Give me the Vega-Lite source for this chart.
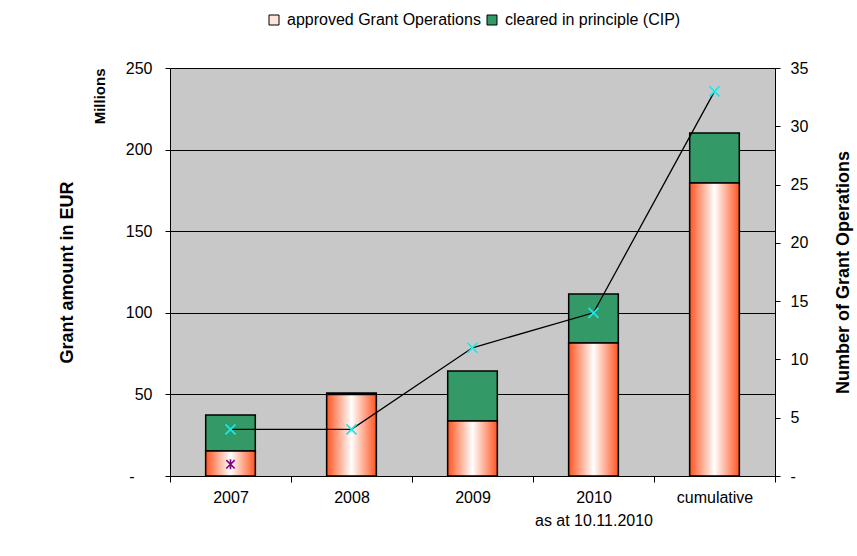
{
  "$schema": "https://vega.github.io/schema/vega-lite/v6.json",
  "width": 605,
  "height": 408,
  "autosize": {"type": "none"},
  "padding": {"left": 170, "top": 68, "right": 82, "bottom": 80},
  "background": "white",
  "config": {
    "font": "Liberation Sans",
    "view": {"fill": "#C8C8C8", "stroke": "#808080", "strokeWidth": 1},
    "axis": {
      "labelFont": "Liberation Sans",
      "labelFontSize": 16,
      "labelColor": "#000000",
      "titleFont": "Liberation Sans",
      "titleFontSize": 18,
      "titleFontWeight": "bold",
      "titleColor": "#000000",
      "domainColor": "#000000",
      "tickColor": "#000000",
      "gridColor": "#000000",
      "gridOpacity": 1,
      "gridWidth": 1
    },
    "legend": {
      "labelFont": "Liberation Sans",
      "labelFontSize": 16,
      "labelColor": "#000000",
      "labelLimit": 400,
      "symbolStrokeColor": "#000000",
      "symbolStrokeWidth": 1,
      "symbolType": "square",
      "symbolSize": 100
    }
  },
  "data": {
    "values": [
      {"cat": "2007", "approved": 15.3, "cip": 22.1, "count": 4, "other": 1},
      {"cat": "2008", "approved": 50.0, "cip": 0.9, "count": 4, "other": null},
      {"cat": "2009", "approved": 33.7, "cip": 30.6, "count": 11, "other": null},
      {"cat": "2010", "approved": 81.5, "cip": 30.0, "count": 14, "other": null},
      {"cat": "cumulative", "approved": 179.5, "cip": 30.7, "count": 33, "other": null}
    ]
  },
  "encoding": {
    "x": {
      "field": "cat",
      "type": "nominal",
      "sort": null,
      "scale": {"paddingInner": 0, "paddingOuter": 0},
      "axis": {
        "title": null,
        "labelAngle": 0,
        "tickBand": "extent",
        "tickSize": 6,
        "labelPadding": 7,
        "labelLineHeight": 23,
        "labelExpr": "datum.value == '2010' ? ['2010', 'as at 10.11.2010'] : datum.value"
      }
    }
  },
  "layer": [
    {
      "layer": [
        {
          "transform": [
            {"fold": ["approved", "cip"], "as": ["series", "amount"]},
            {"calculate": "datum.series == 'approved' ? 'approved Grant Operations' : 'cleared in principle (CIP)'", "as": "label"},
            {"calculate": "datum.series == 'approved' ? 0 : 1", "as": "ord"}
          ],
          "mark": {"type": "bar", "width": {"band": 0.41}, "stroke": "#000000", "strokeWidth": 1.5},
          "encoding": {
            "y": {
              "field": "amount",
              "type": "quantitative",
              "stack": "zero",
              "scale": {"domain": [0, 250], "nice": false},
              "axis": {
                "orient": "left",
                "values": [0, 50, 100, 150, 200, 250],
                "grid": true,
                "tickSize": 5,
                "labelPadding": {"condition": {"test": "datum.value == 0", "value": 31}, "value": 13},
                "labelExpr": "datum.value == 0 ? '-' : datum.value",
                "title": "Grant amount in EUR",
                "titlePadding": 49
              }
            },
            "color": {
              "field": "label",
              "type": "nominal",
              "scale": {
                "domain": ["approved Grant Operations", "cleared in principle (CIP)"],
                "range": ["#FFE4DC", "#339966"]
              },
              "legend": {
                "title": null,
                "orient": "none",
                "direction": "horizontal",
                "legendX": 96,
                "legendY": -56,
                "columnPadding": 3,
                "labelOffset": 5
              }
            },
            "order": {"field": "ord", "type": "quantitative"}
          }
        },
        {
          "mark": {
            "type": "bar",
            "width": {"band": 0.41},
            "stroke": "#000000",
            "strokeWidth": 1.5,
            "color": {
              "gradient": "linear",
              "x1": 0, "y1": 0, "x2": 1, "y2": 0,
              "stops": [
                {"offset": 0, "color": "#FF5522"},
                {"offset": 0.5, "color": "#FFFFFF"},
                {"offset": 1, "color": "#FF5522"}
              ]
            }
          },
          "encoding": {
            "y": {
              "field": "approved",
              "type": "quantitative",
              "scale": {"domain": [0, 250], "nice": false},
              "axis": {
                "orient": "left",
                "labels": false,
                "ticks": false,
                "domain": false,
                "grid": false,
                "title": "Millions",
                "titleFontSize": 15,
                "titleAnchor": "end",
                "titlePadding": 63
              }
            }
          }
        }
      ],
      "resolve": {"axis": {"y": "independent"}}
    },
    {
      "layer": [
        {
          "mark": {"type": "line", "color": "#000000", "strokeWidth": 1.3},
          "encoding": {
            "y": {
              "field": "count",
              "type": "quantitative",
              "scale": {"domain": [0, 35], "nice": false},
              "axis": {
                "orient": "right",
                "values": [0, 5, 10, 15, 20, 25, 30, 35],
                "grid": false,
                "tickSize": 5,
                "labelPadding": 10,
                "labelExpr": "datum.value == 0 ? '-' : datum.value",
                "title": "Number of Grant Operations",
                "titleAngle": -90,
                "titleBaseline": "top",
                "titlePadding": 27
              }
            }
          }
        },
        {
          "mark": {
            "type": "point",
            "shape": "M-1,-1L1,1M-1,1L1,-1",
            "size": 100,
            "filled": false,
            "stroke": "#22E6E6",
            "strokeWidth": 1.7,
            "opacity": 1
          },
          "encoding": {
            "y": {"field": "count", "type": "quantitative"}
          }
        },
        {
          "transform": [{"filter": "datum.other != null"}],
          "mark": {
            "type": "point",
            "shape": "M-1,-1L1,1M-1,1L1,-1M0,-1.2L0,1.2",
            "size": 70,
            "filled": false,
            "stroke": "#800080",
            "strokeWidth": 1.6,
            "opacity": 1
          },
          "encoding": {
            "y": {"field": "other", "type": "quantitative"}
          }
        }
      ]
    }
  ],
  "resolve": {"scale": {"y": "independent"}}
}
